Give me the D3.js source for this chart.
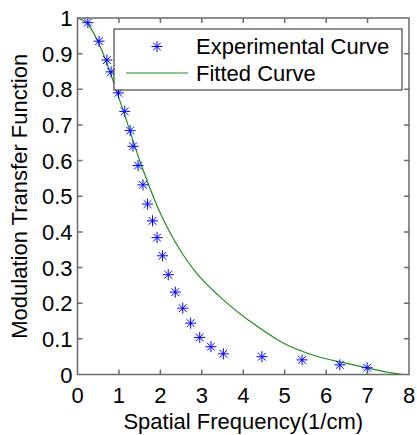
<!DOCTYPE html>
<html>
<head>
<meta charset="utf-8">
<script src="https://cdn.jsdelivr.net/npm/d3@7"></script>
<style>
  html, body { margin: 0; padding: 0; background: #fff; }
  svg { display: block; font-family: "Liberation Sans", Arial, sans-serif; }
</style>
</head>
<body>
<svg id="chart" width="417" height="435"></svg>
<script>
// ---- data ----
const expX = [0.25, 0.52, 0.71, 0.81, 0.99, 1.14, 1.27, 1.34, 1.46, 1.58, 1.69, 1.81, 1.92, 2.05, 2.19, 2.36, 2.54, 2.73, 2.95, 3.22, 3.52, 4.45, 5.42, 6.33, 6.99];
const expY = [0.987, 0.935, 0.882, 0.849, 0.790, 0.738, 0.684, 0.640, 0.586, 0.532, 0.478, 0.431, 0.384, 0.333, 0.280, 0.231, 0.186, 0.144, 0.104, 0.078, 0.058, 0.050, 0.041, 0.027, 0.019];
const fitX = [0, 0.24, 0.52, 0.77, 0.96, 1.17, 1.49, 2.0, 2.46, 2.94, 3.58, 4.12, 4.94, 5.75, 6.5, 7.04, 7.5, 7.85];
const fitY = [1, 0.984, 0.927, 0.853, 0.789, 0.717, 0.604, 0.452, 0.352, 0.275, 0.203, 0.153, 0.090, 0.052, 0.031, 0.017, 0.006, 0.0];
const xTicks = [0, 1, 2, 3, 4, 5, 6, 7, 8];
const yTicks = [0, 0.1, 0.2, 0.3, 0.4, 0.5, 0.6, 0.7, 0.8, 0.9, 1];
const seriesNames = ["Experimental Curve", "Fitted Curve"];
const xLabel = "Spatial Frequency(1/cm)";
const yLabel = "Modulation Transfer Function";

// ---- layout ----
const L = 77.5, R = 409, T = 18, B = 374.5;
const svg = d3.select("#chart");
const x = d3.scaleLinear().domain([0, 8]).range([L, R]);
const y = d3.scaleLinear().domain([0, 1]).range([B, T]);
const fs = 22;
const axisColor = "#6a6a6a";

// tick labels
const g = svg.append("g");
g.selectAll(".xt").data(xTicks).join("text")
  .attr("x", d => x(d)).attr("y", B + 28)
  .attr("text-anchor", "middle").attr("font-size", fs).attr("fill", "#000")
  .text(d => d);
g.selectAll(".yt").data(yTicks).join("text")
  .attr("x", L - 5).attr("y", d => y(d) + 8)
  .attr("text-anchor", "end").attr("font-size", fs).attr("fill", "#000")
  .text(d => d3.format("")(+d.toFixed(1)));

// labels
svg.append("text").attr("x", (L + R) / 2).attr("y", 429)
  .attr("text-anchor", "middle").attr("font-size", fs).text(xLabel);
svg.append("text").attr("transform", `translate(27,${(T + B) / 2}) rotate(-90)`)
  .attr("text-anchor", "middle").attr("font-size", fs).text(yLabel);

// fitted curve
const fitData = fitX.map((d, i) => [d, fitY[i]]);
const line = d3.line().x(d => x(d[0])).y(d => y(d[1])).curve(d3.curveCatmullRom.alpha(0.5));
svg.append("path").datum(fitData).attr("d", line)
  .attr("fill", "none").attr("stroke", "#1f8f1f").attr("stroke-width", 1.2);

// star marker
function starPath(cx, cy, r) {
  const d = r * Math.SQRT1_2;
  return `M${cx - r},${cy}H${cx + r}M${cx},${cy - r}V${cy + r}` +
         `M${cx - d},${cy - d}L${cx + d},${cy + d}M${cx - d},${cy + d}L${cx + d},${cy - d}`;
}
const expData = expX.map((d, i) => [d, expY[i]]);
svg.append("g").selectAll("path").data(expData).join("path")
  .attr("d", d => starPath(x(d[0]), y(d[1]), 5.5))
  .attr("fill", "none").attr("stroke", "#0000ff").attr("stroke-width", 1);

// frame and ticks
const frame = svg.append("g").attr("stroke", axisColor).attr("stroke-width", 1.5).attr("fill", "none");
frame.append("rect").attr("x", L).attr("y", T).attr("width", R - L).attr("height", B - T);
const tl = 5;
frame.selectAll(".xb").data(xTicks.slice(1, -1)).join("path")
  .attr("d", d => `M${x(d)},${B}V${B - tl}M${x(d)},${T}V${T + tl}`);
frame.selectAll(".yb").data(yTicks.slice(1, -1)).join("path")
  .attr("d", d => `M${L},${y(d)}H${L + tl}M${R},${y(d)}H${R - tl}`);

// legend
const lg = svg.append("g");
lg.append("rect").attr("x", 114).attr("y", 29).attr("width", 288).attr("height", 61)
  .attr("fill", "#fff").attr("stroke", "#222").attr("stroke-width", 1);
lg.append("path").attr("d", starPath(157, 46.5, 5.5))
  .attr("fill", "none").attr("stroke", "#0000ff").attr("stroke-width", 1);
lg.append("line").attr("x1", 126).attr("x2", 188).attr("y1", 73).attr("y2", 73)
  .attr("stroke", "#1f8f1f").attr("stroke-width", 1.2);
lg.selectAll(".lt").data(seriesNames).join("text")
  .attr("x", 196).attr("y", (d, i) => 54 + i * 26.5)
  .attr("font-size", fs).text(d => d);
</script>
</body>
</html>
